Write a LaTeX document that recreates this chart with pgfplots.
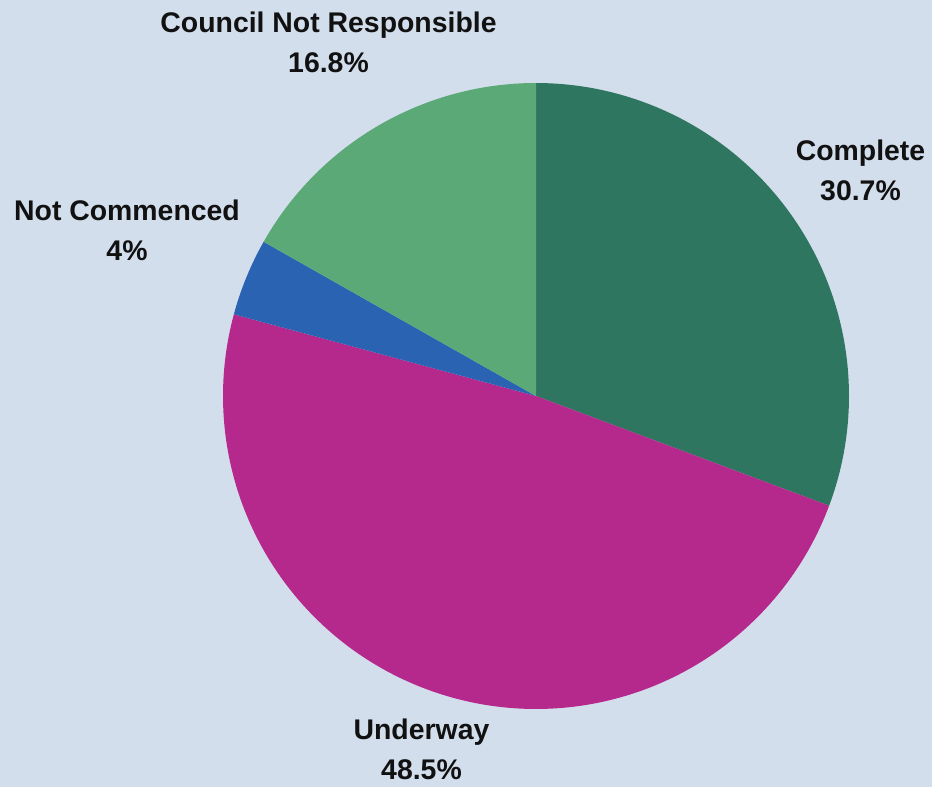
\documentclass[border=0pt]{standalone}
\usepackage{pgfplots}
\usepackage{pgfplotstable}
\pgfplotsset{compat=1.18}
\usepackage{fontspec}
\setmainfont{Liberation Sans}
\definecolor{bgc}{HTML}{D3DEEC}
\definecolor{cComplete}{HTML}{2E7660}
\definecolor{cUnderway}{HTML}{B5298C}
\definecolor{cNotComm}{HTML}{2B63B3}
\definecolor{cCouncil}{HTML}{5BA976}
\definecolor{txt}{HTML}{111111}
\pgfplotstableread[col sep=comma]{
label,value
Complete,30.7
Underway,48.5
Not Commenced,4
Council Not Responsible,16.8
}\piedata
\pgfplotstablegetelem{0}{value}\of\piedata \let\vA\pgfplotsretval
\pgfplotstablegetelem{1}{value}\of\piedata \let\vB\pgfplotsretval
\pgfplotstablegetelem{2}{value}\of\piedata \let\vC\pgfplotsretval
\pgfplotstablegetelem{3}{value}\of\piedata \let\vD\pgfplotsretval
\pgfmathsetmacro\aA{90-3.6*\vA}
\pgfmathsetmacro\aB{\aA-3.6*\vB}
\pgfmathsetmacro\aC{\aB-3.6*\vC}
\pgfmathsetmacro\aD{\aC-3.6*\vD}
\begin{document}%
\begin{tikzpicture}
\begin{axis}[
  name=pie,
  scale only axis, width=466pt, height=393.5pt,
  xmin=-536, xmax=396, ymin=-391, ymax=396,
  hide axis, clip=false,
]
\fill[bgc] (rel axis cs:0,0) rectangle (rel axis cs:1,1);
\addplot[fill=cComplete, draw=none, domain=\aA:90, samples=120] ({313*cos(x)},{313*sin(x)}) -- (axis cs:0,0) -- cycle;
\addplot[fill=cUnderway, draw=none, domain=\aB:\aA, samples=160] ({313*cos(x)},{313*sin(x)}) -- (axis cs:0,0) -- cycle;
\addplot[fill=cNotComm, draw=none, domain=\aC:\aB, samples=30] ({313*cos(x)},{313*sin(x)}) -- (axis cs:0,0) -- cycle;
\addplot[fill=cCouncil, draw=none, domain=\aD:\aC, samples=80] ({313*cos(x)},{313*sin(x)}) -- (axis cs:0,0) -- cycle;
\begin{scope}[every node/.style={align=center, text=txt, inner sep=0pt, font=\fontsize{14.2pt}{20pt}\selectfont\bfseries}]
\node at (axis cs:324.5,226) {Complete\\\vA\%};
\node at (axis cs:-114.5,-353) {Underway\\\vB\%};
\node at (axis cs:-409,166) {Not Commenced\\\vC\%};
\node at (axis cs:-207.5,353.5) {Council Not Responsible\\\vD\%};
\end{scope}
\end{axis}
\pgfresetboundingbox
\path[use as bounding box] (pie.south west) rectangle (pie.north east);
\end{tikzpicture}%
\end{document}
